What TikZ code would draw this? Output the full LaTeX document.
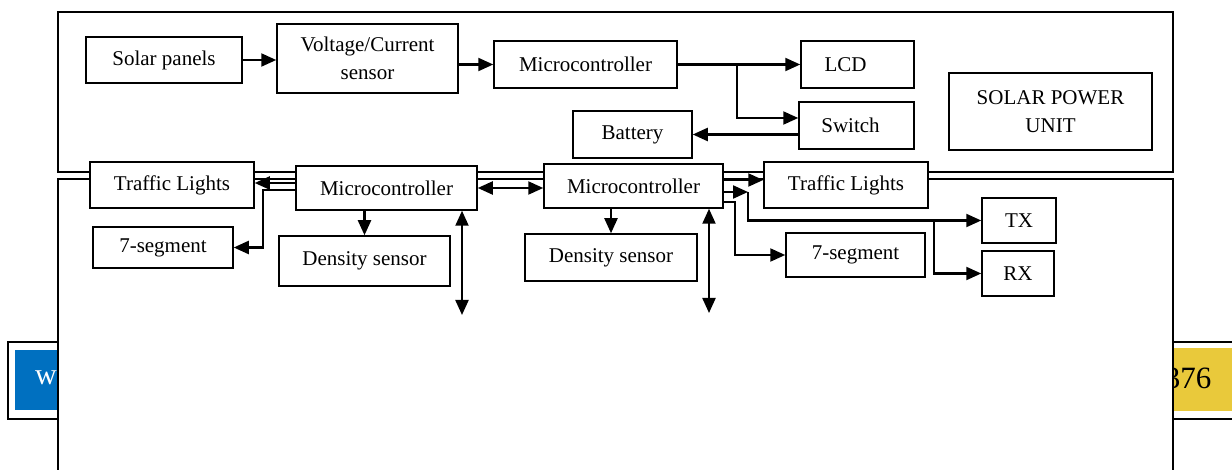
\documentclass[tikz,border=0pt]{standalone}
\usepackage{fontspec}
\setmainfont{Liberation Serif}
\usetikzlibrary{arrows.meta}

\definecolor{stripblue}{HTML}{0070C0}
\definecolor{stripyellow}{HTML}{E9C93B}

\tikzset{
	block/.style = {draw, line width = 0.75pt, fill = white, inner sep = 1pt, align = center,
		font = \fontsize{10.5}{14}\selectfont},
	frame/.style = {line width = 0.8pt},
	link/.style = {line width = 1.1pt}
}

\begin{document}
\begin{tikzpicture}[x = 0.5pt, y = -0.5pt, > = {Triangle[length = 7.5pt, width = 6.5pt]}]

	\useasboundingbox (0, 0) rectangle (1232, 470);

	% Page strip behind the lower frame

	\draw [frame] (8, 342) rectangle (1260, 419);
	\fill [stripblue] (15, 350) rectangle (58, 410);
	\fill [stripyellow] (1173, 348) rectangle (1260, 411);
	\node [text = white, font = \fontsize{15}{15}\selectfont] (wmark) at (46, 378) {w};
	\node [font = \fontsize{15.5}{15.5}\selectfont] (pagenum) at (1188, 378) {376};

	% The two frames

	\draw [frame] (58, 12) rectangle (1173, 172);
	\draw [frame, fill = white] (58, 179) rectangle (1173, 490);

	% Solar power unit

	\node [block, minimum width = 78pt, minimum height = 23pt] (solar) at (164, 60) {Solar panels};
	\node [block, minimum width = 90.5pt, minimum height = 34.5pt] (vcsens) at (367.5, 58.5) {Voltage/Current\\sensor};
	\node [block, minimum width = 91.5pt, minimum height = 23.5pt] (mcusolar) at (585.5, 64.5) {Microcontroller};
	\node [block, minimum width = 56.5pt, minimum height = 23.5pt] (lcd) at (857.5, 64.5) {LCD\hspace*{12pt}};
	\node [block, minimum width = 57.5pt, minimum height = 23.5pt] (switch) at (856.5, 125.5) {Switch\hspace*{6pt}};
	\node [block, minimum width = 59.5pt, minimum height = 23.5pt] (battery) at (632.5, 134.5) {Battery};
	\node [block, minimum width = 101.5pt, minimum height = 38.5pt] (unit) at (1050.5, 111.5) {SOLAR POWER\\UNIT};

	% Traffic unit

	\node [block, minimum width = 82pt, minimum height = 23pt] (lights1) at (172, 185) {Traffic Lights};
	\node [block, minimum width = 90.5pt, minimum height = 22pt] (mcu1) at (386.5, 188) {Microcontroller};
	\node [block, minimum width = 89.5pt, minimum height = 22pt] (mcu2) at (633.5, 186) {Microcontroller};
	\node [block, minimum width = 82pt, minimum height = 23pt] (lights2) at (846, 185) {Traffic Lights};
	\node [block, minimum width = 70pt, minimum height = 20.5pt] (seg1) at (163, 247.5) {7-segment};
	\node [block, minimum width = 85.5pt, minimum height = 25pt] (dens1) at (364.5, 261) {Density sensor};
	\node [block, minimum width = 86pt, minimum height = 23.5pt] (dens2) at (611, 257.5) {Density sensor};
	\node [block, minimum width = 69.5pt, minimum height = 22pt] (seg2) at (855.5, 255) {7-segment};
	\node [block, minimum width = 37pt, minimum height = 22.5pt] (tx) at (1019, 220.5) {TX};
	\node [block, minimum width = 36pt, minimum height = 22.5pt] (rx) at (1018, 273.5) {RX};

	% Bends and free ends

	\coordinate (fork1) at (737, 64.5);
	\coordinate (bend1) at (263, 190);
	\coordinate (bend2) at (748, 192);
	\coordinate (bend3) at (735, 202);
	\coordinate (fork2) at (934, 220.5);
	\coordinate (bus1) at (462, 315);
	\coordinate (bus2) at (709, 313);

	% One-way links

	\begin{scope}[->, link]

		\draw (solar.east) -- (solar.east -| vcsens.west);
		\draw (mcusolar.west -| vcsens.east) -- (mcusolar.west);
		\draw (mcusolar.east) -- (lcd.west);
		\draw (fork1) |- ([yshift = 3.75pt] switch.west);
		\draw (switch.west |- battery.east) -- (battery.east);

		\draw ([yshift = 2.5pt] mcu1.west) -- ([yshift = 2.5pt] mcu1.west -| lights1.east);
		\draw (mcu1.west |- bend1) -- (bend1) |- (seg1.east);
		\draw (dens1.north |- mcu1.south) -- (dens1.north);
		\draw (dens2.north |- mcu2.south) -- (dens2.north);
		\draw ([yshift = 3pt] mcu2.east) -- ([yshift = 3pt] mcu2.east -| lights2.west);
		\draw (mcu2.east |- bend2) -- (bend2);
		\draw (bend2) |- (tx.west);
		\draw (fork2) |- (rx.west);
		\draw (mcu2.east |- bend3) -- (bend3) |- (seg2.west);

	\end{scope}

	% Two-way links

	\begin{scope}[<->, link]

		\draw (mcu1.east) -- (mcu1.east -| mcu2.west);
		\draw (mcu1.south -| bus1) -- (bus1);
		\draw (mcu2.south -| bus2) -- (bus2);

	\end{scope}

\end{tikzpicture}
\end{document}
